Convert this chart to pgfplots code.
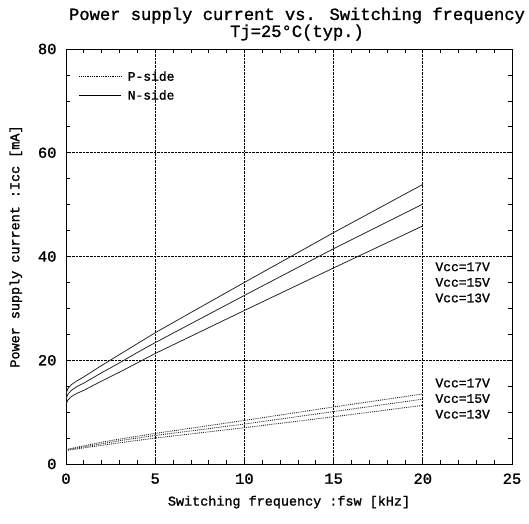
\documentclass[border=0pt]{standalone}
\usepackage{pgfplots}
\pgfplotsset{compat=1.18}
\usepackage{fontspec}
\setmainfont{Liberation Mono}[RawFeature={embolden=1.3}]
\begin{document}
\begin{tikzpicture}
\path[use as bounding box] (-66bp,-60bp) rectangle (463bp,464bp);
\begin{axis}[
  scale only axis, width=446bp, height=415bp,
  xmin=0, xmax=25, ymin=0, ymax=80,
  xtick={0,5,10,15,20,25}, ytick={0,20,40,60,80},
  major tick length=0pt,
  major grid style={black, densely dotted, line width=0.7pt},
  xmajorgrids, ymajorgrids,
  axis line style={black, line width=0.8pt},
  /pgf/number format/assume math mode=true,
  ticklabel style={font=\fontsize{15.5}{15.5}\selectfont},
  xticklabel style={yshift=-6bp},
  yticklabel style={xshift=-6bp},
  xlabel={Switching frequency :fsw [kHz]},
  ylabel={Power supply current :Icc [mA]},
  label style={font=\fontsize{13.5}{13.5}\selectfont},
  xlabel style={yshift=-5bp},
  ylabel style={yshift=9bp, xshift=10bp},
  title={Power supply current vs. Switching frequency\\Tj=25°C(typ.)},
  title style={align=center, font=\fontsize{17.2}{15.5}\selectfont, yshift=-1bp, xshift=8bp},
  legend style={at={(axis cs:0.55,76.5)}, anchor=north west, draw=none, fill=none,
    font=\fontsize{13}{13}\selectfont, row sep=4bp},
  legend cell align=left,
  legend image code/.code={\draw[#1] (0bp,0bp) -- (42bp,0bp);},
  legend style={nodes={inner xsep=6bp}},
]
\addlegendimage{black, densely dotted, line width=0.8pt}
\addlegendentry{P-side}
\addlegendimage{black, line width=0.8pt}
\addlegendentry{N-side}
% tick marks on all four sides
\pgfplotsinvokeforeach{1,2,3,4,5,6,7,8,9,10,11,12,13,14,15,16,17,18,19,20,21,22,23,24}{
  \draw[black, line width=0.7pt] (axis cs:#1,0) -- ++(0,4bp);
  \draw[black, line width=0.7pt] (axis cs:#1,80) -- ++(0,-4bp);
}
\pgfplotsinvokeforeach{5,10,15,20,25,30,35,40,45,50,55,60,65,70,75}{
  \draw[black, line width=0.7pt] (axis cs:0,#1) -- ++(4bp,0);
  \draw[black, line width=0.7pt] (axis cs:25,#1) -- ++(-4bp,0);
}
% N-side
\addplot[black!85, line width=0.8pt, forget plot] coordinates {(0,13.5) (0.1,14.5) (0.3,15.3) (0.6,16.0) (1,16.8) (2,19.0) (3,21.1) (4,23.2) (5,25.3) (7,29.2) (10,35.0) (15,44.6) (20,53.9)};
\addplot[black!85, line width=0.8pt, forget plot] coordinates {(0,12.5) (0.1,13.4) (0.3,14.2) (0.6,14.9) (1,15.6) (2,17.6) (3,19.5) (4,21.5) (5,23.4) (10,32.5) (15,41.5) (20,50.1)};
\addplot[black!85, line width=0.8pt, forget plot] coordinates {(0,11.5) (0.1,12.3) (0.3,13.0) (0.6,13.6) (1,14.2) (2,16.0) (3,17.7) (4,19.5) (5,21.3) (10,29.6) (15,37.8) (20,45.9)};
% P-side
\addplot[black!85, densely dotted, line width=0.9pt, forget plot] coordinates {(0,2.8) (1,3.5) (2,4.2) (3,4.8) (5,5.9) (10,8.4) (15,11.0) (20,13.5)};
\addplot[black!85, densely dotted, line width=0.9pt, forget plot] coordinates {(0,2.7) (1,3.3) (2,3.9) (3,4.5) (5,5.5) (10,7.7) (15,10.1) (20,12.5)};
\addplot[black!85, densely dotted, line width=0.9pt, forget plot] coordinates {(0,2.6) (1,3.1) (2,3.6) (3,4.1) (5,5.0) (10,7.0) (15,9.1) (20,11.3)};
\begin{scope}[every node/.style={anchor=west, font=\fontsize{13}{13}\selectfont, inner sep=0pt}]
\node at (axis cs:20.7,38.0) {Vcc=17V};
\node at (axis cs:20.7,35.0) {Vcc=15V};
\node at (axis cs:20.7,32.0) {Vcc=13V};
\node at (axis cs:20.7,15.6) {Vcc=17V};
\node at (axis cs:20.7,12.6) {Vcc=15V};
\node at (axis cs:20.7,9.6) {Vcc=13V};
\end{scope}
\end{axis}
\end{tikzpicture}
\end{document}
